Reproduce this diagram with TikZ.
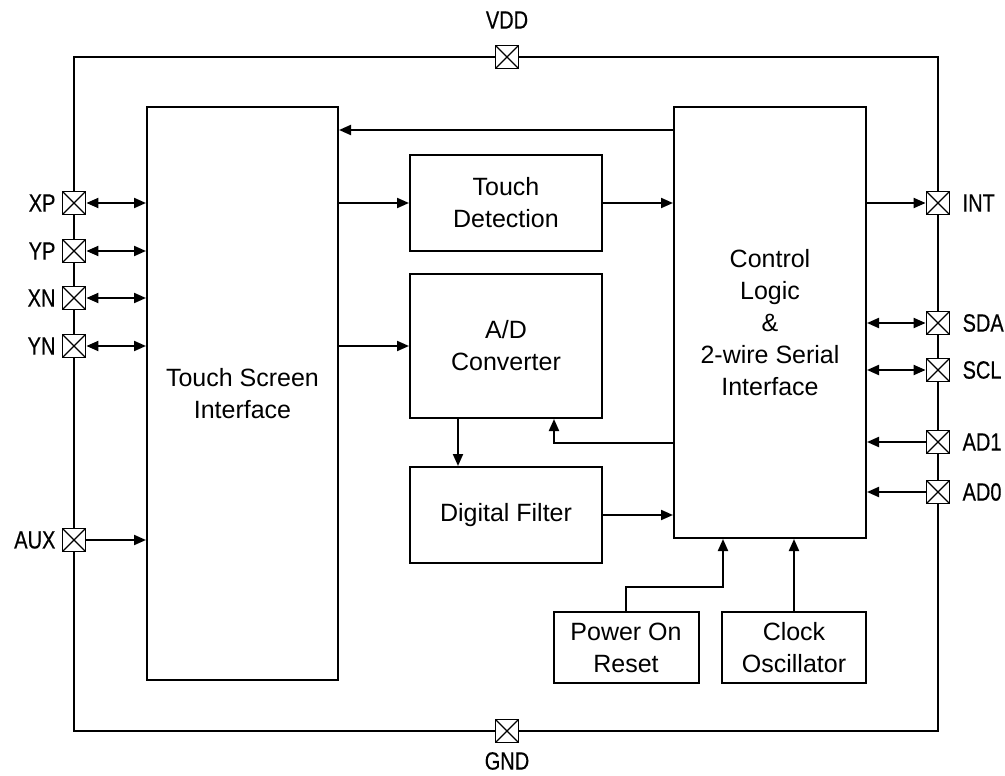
\documentclass[tikz,border=0pt]{standalone}
\usepackage{fontspec}
\setmainfont{Liberation Sans}
\newfontfamily\pinfont[FakeStretch=0.8,FakeBold=0.4]{Liberation Sans}
\usetikzlibrary{arrows.meta,calc}
\begin{document}
\begin{tikzpicture}[x=1pt,y=-1pt,
  blk/.style={draw,line width=2pt,align=center,inner sep=0pt,
    font=\fontsize{25}{32}\selectfont},
  pinbox/.style={draw,line width=1.8pt,minimum size=23pt,inner sep=0pt,fill=white,
    path picture={\draw[line width=1.3pt]
      (path picture bounding box.north west)--(path picture bounding box.south east)
      (path picture bounding box.north east)--(path picture bounding box.south west);}},
  plabel/.style={font=\pinfont\fontsize{25}{28}\selectfont,inner sep=0pt},
  tip/.tip={Triangle[length=12pt,width=10pt]},
  arr/.style={line width=2pt,-tip},
  darr/.style={line width=2pt,tip-tip}]
\useasboundingbox (0,0) rectangle (1005,776);
% outer frame
\draw[line width=1.8pt] (74,57) rectangle (938,731);
% pins
\node[pinbox] (VDD) at (507,57) {};
\node[pinbox] (GND) at (507,731) {};
\node[pinbox] (XP) at (74,203) {};
\node[pinbox] (YP) at (74,251) {};
\node[pinbox] (XN) at (74,298) {};
\node[pinbox] (YN) at (74,346) {};
\node[pinbox] (AUX) at (74,540) {};
\node[pinbox] (INT) at (938,203) {};
\node[pinbox] (SDA) at (938,323) {};
\node[pinbox] (SCL) at (938,370) {};
\node[pinbox] (AD1) at (938,442) {};
\node[pinbox] (AD0) at (938,492) {};
% pin labels
\node[plabel] (lVDD) at (507,20) {VDD};
\node[plabel] (lGND) at (507,761) {GND};
\foreach \p in {XP,YP,XN,YN,AUX}{\node[plabel,anchor=east] (l\p) at ($(\p.west)+(-6,0)$) {\p};}
\foreach \p in {INT,SDA,SCL,AD1}{\node[plabel,anchor=west] (l\p) at ($(\p.east)+(12,0)$) {\p};}
\node[plabel,anchor=west] (lAD0) at ($(AD0.east)+(12,0)$) {AD0};
% blocks
\node[blk,minimum width=191pt,minimum height=573pt] (TSI) at (242.5,393.5) {Touch Screen\\Interface};
\node[blk,minimum width=192pt,minimum height=96pt] (TD) at (506,203) {Touch\\Detection};
\node[blk,minimum width=192pt,minimum height=144pt] (AD) at (506,346) {A/D\\Converter};
\node[blk,minimum width=192pt,minimum height=96pt] (DF) at (506,515) {Digital Filter};
\node[blk,minimum width=192pt,minimum height=431pt] (CL) at (770,322.5) {Control\\Logic\\\&\\2-wire Serial\\Interface};
\node[blk,minimum width=145pt,minimum height=71pt] (POR) at (626,647.5) {Power On\\Reset};
\node[blk,minimum width=144pt,minimum height=71pt] (CO) at (794,647.5) {Clock\\Oscillator};
% internal connectors
\coordinate (clTop) at (CL.west |- 0,130);
\draw[arr] (clTop) -- (TSI.east |- clTop);
\draw[arr] (TSI.east |- TD.west) -- (TD.west);
\draw[arr] (TD.east) -- (CL.west |- TD.east);
\draw[arr] (TSI.east |- AD.west) -- (AD.west);
\draw[arr] (AD.south -| 458,0) -- (DF.north -| 458,0);
\coordinate (fb) at (CL.west |- 0,443);
\draw[arr] (fb) -| (AD.south -| 554,0);
\draw[arr] (DF.east) -- (CL.west |- DF.east);
\coordinate (porbend) at (POR.north |- 0,587);
\draw[arr] (POR.north) -- (porbend) -| (CL.south -| 723,0);
\draw[arr] (CO.north) -- (CL.south -| CO.north);
% pin connectors
\foreach \p in {XP,YP,XN,YN}{\draw[darr] (\p.east) -- (TSI.west |- \p);}
\draw[arr] (AUX.east) -- (TSI.west |- AUX);
\draw[arr] (CL.east |- INT) -- (INT.west);
\draw[darr] (CL.east |- SDA) -- (SDA.west);
\draw[darr] (CL.east |- SCL) -- (SCL.west);
\draw[arr] (AD1.west) -- (CL.east |- AD1);
\draw[arr] (AD0.west) -- (CL.east |- AD0);
\end{tikzpicture}
\end{document}
